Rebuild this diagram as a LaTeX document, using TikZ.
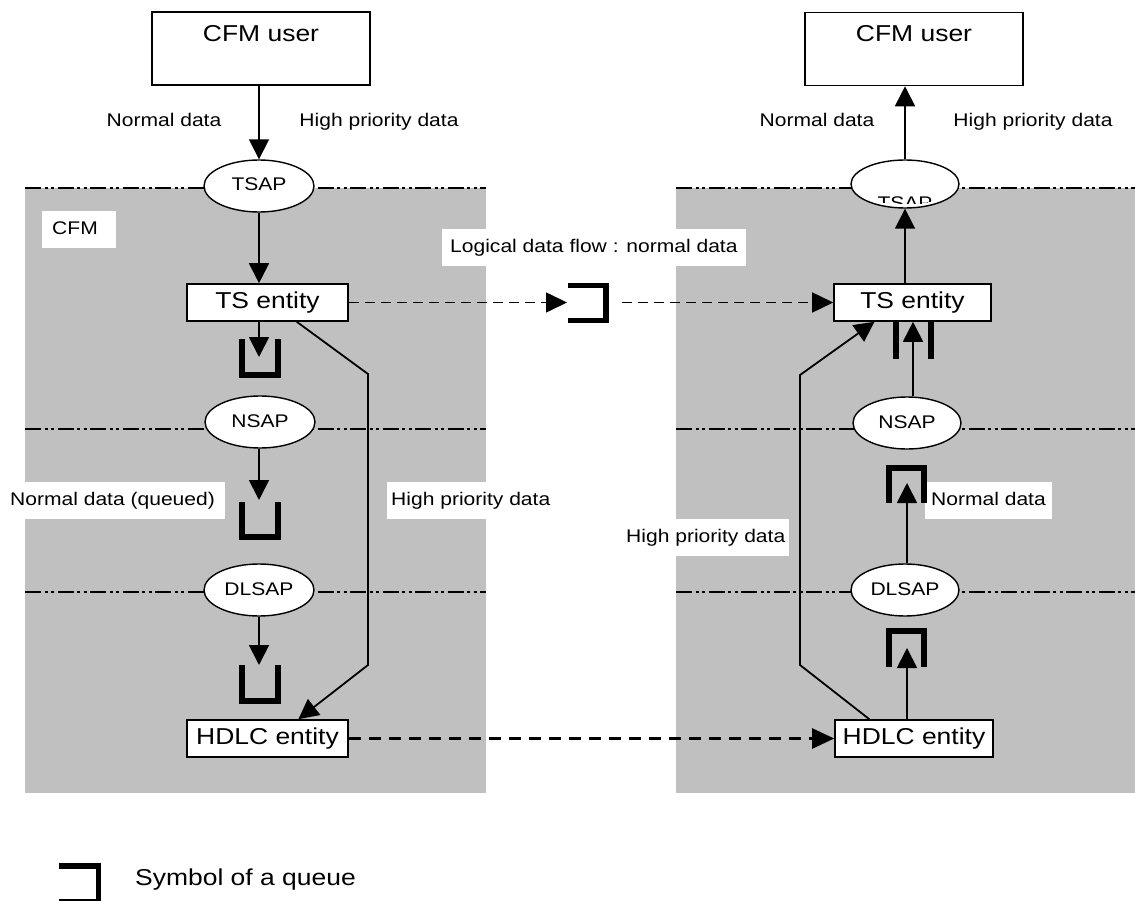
\documentclass[tikz,border=0pt]{standalone}
\usepackage{fontspec}
\setmainfont{Liberation Sans}[FakeStretch=1.15]
\usetikzlibrary{arrows.meta,shapes.geometric,calc}
\definecolor{panelgray}{RGB}{192,192,192}
\newcommand\lblsz{\fontsize{18.3}{22}\selectfont}
\newcommand\ttlsz{\fontsize{23}{27}\selectfont}

\begin{document}
\begin{tikzpicture}[x=1pt,y=-1pt,
  smalltxt/.style={inner sep=0pt, font=\lblsz, text height=13.7pt, text depth=3.7pt},
  bigtxt/.style={inner sep=0pt, font=\ttlsz, text height=17.25pt, text depth=4.6pt},
  lbl/.style={smalltxt},
  biglbl/.style={bigtxt},
  wlbl/.style={smalltxt, fill=white, minimum height=37pt, inner ysep=0pt},
  userbox/.style={draw, line width=1.6pt, fill=white, minimum width=218pt, minimum height=73pt},
  entity/.style={bigtxt, draw, line width=1.6pt, fill=white, minimum height=37pt},
  sap/.style={smalltxt, ellipse, draw, line width=1.4pt, fill=white,
    minimum width=110pt, minimum height=52pt},
  flow/.style={line width=1.8pt, -{Triangle[length=20pt,width=20pt]}},
  hiprio/.style={line width=1.8pt, line join=miter, -{Triangle[length=20pt,width=20pt]}},
  queue/.style={line width=5.5pt, line join=miter, line cap=butt},
  layer/.style={line width=2.7pt, dash pattern=on 16pt off 3.5pt on 3pt off 3.5pt on 3pt off 3.5pt},
  logic/.style={line width=1.6pt, dash pattern=on 10pt off 6pt, -{Triangle[length=21pt,width=20pt]}},
  phys/.style={line width=2.4pt, dash pattern=on 12pt off 8pt, -{Triangle[length=22pt,width=20pt]}},
]
\useasboundingbox (0,0) rectangle (1135,901);
\fill[white] (0,0) rectangle (1135,901);

% the two CFM stacks
\fill[panelgray] (25,188) rectangle (486,793);
\fill[panelgray] (676,188) rectangle (1135,793);

% layer boundaries
\foreach \ly in {188,429,592} {
  \draw[layer] (25,\ly) -- (486,\ly);
  \draw[layer] (676,\ly) -- (1135,\ly);
}

% users
\node[userbox] (userL) at (261,48.5) {};
\node[biglbl] (userLtext) at (261,35.5) {CFM user};
\node[userbox] (userR) at (914,49) {};
\node[biglbl] (userRtext) at (914,35.5) {CFM user};

\node[lbl] (ndTopL) at (164,122) {Normal data};
\node[lbl] (hpTopL) at (379,122) {High priority data};
\node[lbl] (ndTopR) at (817,122) {Normal data};
\node[lbl] (hpTopR) at (1033,122) {High priority data};

% service access points
\node[sap] (tsapL) at (259,186) {TSAP};
\node[sap] (nsapL) at (260,422) {NSAP};
\node[sap] (dlsapL) at (259,590) {DLSAP};
\node[sap, minimum width=108pt, minimum height=48pt] (tsapR) at (905,184) {};
\begin{scope}
  % the label of this access point sits low and only its upper part shows
  \clip (tsapR.center) ellipse [x radius=52pt, y radius=20pt];
  \node[lbl] (tsapRtext) at (905,205) {TSAP};
\end{scope}
\node[sap, minimum width=108pt] (nsapR) at (907,423) {NSAP};
\node[sap, minimum width=108pt] (dlsapR) at (905,590) {DLSAP};

% entities
\node[entity, minimum width=161pt] (tsL) at (267.5,302.5) {TS entity};
\node[entity, minimum width=157pt] (tsR) at (912.5,302.5) {TS entity};
\node[entity, minimum width=161pt] (hdlcL) at (267.5,738.5) {HDLC entity};
\node[entity, minimum width=158pt] (hdlcR) at (914,738.5) {HDLC entity};

% labels on white ground
\node[wlbl, anchor=west, text width=54pt, align=left, inner xsep=10pt] (cfm) at (42,230) {CFM};
\node[wlbl, anchor=west, inner xsep=8pt] (logic) at (442,248) {Logical data flow : normal data};
\node[wlbl, anchor=west, inner xsep=10pt] (queued) at (0,500.5) {Normal data (queued)};
\node[wlbl, anchor=west, inner xsep=4pt] (hpMidL) at (387,500.5) {High priority data};
\node[wlbl, anchor=west, inner xsep=4pt] (hpMidR) at (622,537) {High priority data};
\node[wlbl, anchor=west, inner xsep=6pt] (ndMidR) at (925,500.5) {Normal data};

% queue entry points
\coordinate (qL1tip) at (259,357);
\coordinate (qL2tip) at (259,500);
\coordinate (qL3tip) at (259,665);
\coordinate (qR1) at (913,340);
\coordinate (qR2tip) at (907,483);
\coordinate (qR3tip) at (907,648);
\coordinate (qMtip) at (567,302.5);
\coordinate (qMout) at (622,302.5);
\coordinate (bendL1) at (368,374);
\coordinate (bendL2) at (368,665);
\coordinate (bendR1) at (800,665);
\coordinate (bendR2) at (800,375);

% normal data, sending side
\draw[flow] (tsapL.north |- userL.south) -- (tsapL.north);
\draw[flow] (tsapL.south) -- (tsapL.south |- tsL.north);
\draw[flow] (qL1tip |- tsL.south) -- (qL1tip);
\draw[flow] (qL2tip |- nsapL.south) -- (qL2tip);
\draw[flow] (qL3tip |- dlsapL.south) -- (qL3tip);

% normal data, receiving side
\draw[flow] (qR3tip |- hdlcR.north) -- (qR3tip);
\draw[flow] (qR2tip |- dlsapR.north) -- (qR2tip);
\draw[flow] (qR1 |- nsapR.north) -- (qR1 |- tsR.south);
\draw[flow] (tsapR.south |- tsR.north) -- (tsapR.south);
\draw[flow] (tsapR.north) -- (tsapR.north |- userR.south);

% high priority bypass
\draw[hiprio] ($(tsL.south west)!0.68!(tsL.south east)$) -- (bendL1) -- (bendL2)
  -- ($(hdlcL.north west)!0.69!(hdlcL.north east)$);
\draw[hiprio] ($(hdlcR.north west)!0.22!(hdlcR.north east)$) -- (bendR1) -- (bendR2)
  -- ($(tsR.south west)!0.26!(tsR.south east)$);

% peer flows
\draw[logic] (tsL.east) -- (qMtip);
\draw[logic] (qMout) -- (tsR.west);
\draw[phys] (hdlcL.east) -- (hdlcR.west);

% queues
\draw[queue] (242,339) -- (242,375) -- (278,375) -- (278,339);
\draw[queue] (242,502) -- (242,537) -- (278,537) -- (278,502);
\draw[queue] (242,665) -- (242,701) -- (278,701) -- (278,665);
\draw[queue] (896,321) -- (896,359);
\draw[queue] (931,321) -- (931,359);
\draw[queue] (889,503) -- (889,468) -- (924,468) -- (924,503);
\draw[queue] (889,667) -- (889,631) -- (924,631) -- (924,667);
\draw[queue] (568,285.5) -- (606,285.5) -- (606,320.5) -- (568,320.5);

% legend
\draw[queue] (59,866) -- (98.5,866) -- (98.5,902) -- (59,902);
\node[biglbl, anchor=west] (legend) at (135,879) {Symbol of a queue};
\end{tikzpicture}
\end{document}
